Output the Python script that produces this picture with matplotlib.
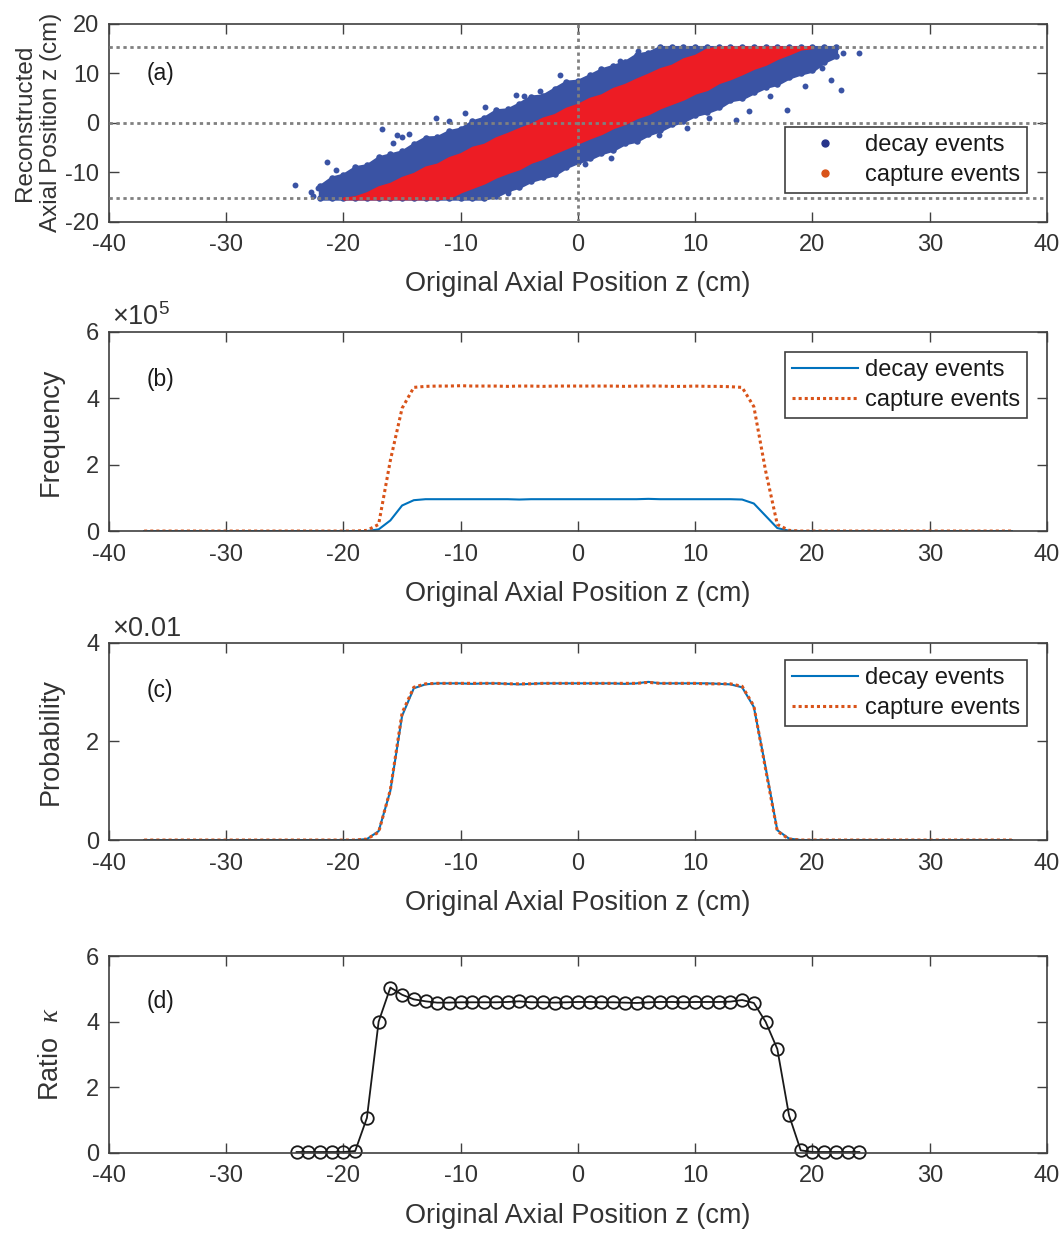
import matplotlib

matplotlib.use("Agg")
import matplotlib.pyplot as plt
import numpy as np
from matplotlib.lines import Line2D

plt.rcParams["font.family"] = ["Liberation Sans", "DejaVu Sans"]
plt.rcParams["axes.unicode_minus"] = False
plt.rcParams["mathtext.fontset"] = "custom"
plt.rcParams["mathtext.rm"] = "Liberation Sans"
plt.rcParams["mathtext.it"] = "Liberation Serif:italic"

AX_COL = "#404040"
TXT_COL = "#333333"
BLUE = "#0072BD"
ORANGE = "#D95319"
DOT_BLUE = "#3A53A4"
DOT_RED = "#ED1C24"

# ---- (a) scatter bands, read as band edges (cm) ----
Z_CUT = 15.3
BLUE_X = list(range(-22, 23))
BLUE_UP = [-12.8, -11.1, -10.5, -9.0, -8.6, -7.0, -6.4, -5.8, -4.3, -3.0,
           -2.9, -1.7, -1.2, 0.3, 1.0, 2.5, 2.7, 3.9, 5.3, 5.5,
           6.9, 8.3, 8.5, 9.6, 10.8, 11.5, 12.3, 13.8, 14.2, 15.3] + [15.3] * 15
BLUE_LO = [-15.3] * 15 + [-14.8, -13.6, -12.9, -11.7, -11.0, -10.4, -8.9, -7.9,
                          -7.2, -6.1, -5.4, -4.1, -3.6, -2.3, -1.5, -0.3, 0.4, 1.6,
                          2.2, 3.1, 4.6, 5.0, 6.2, 7.3, 7.9, 9.2, 10.0, 10.6, 12.4, 13.5]
RED_X = list(range(-20, 21))
RED_UP = [-15.3, -15.0, -14.2, -13.0, -12.3, -11.1, -10.3, -9.0, -8.4, -7.1,
          -6.3, -5.0, -4.4, -3.1, -2.2, -1.2, -0.3, 0.9, 1.6, 2.9,
          3.7, 4.9, 5.6, 6.9, 7.7, 8.8, 9.8, 10.9, 11.6, 12.9,
          13.6, 14.9] + [15.3] * 9
RED_LO = [-15.3] * 9 + [-15.1, -13.9, -13.0, -12.1, -10.9, -10.0, -9.2, -7.9, -7.1,
                        -6.0, -5.0, -4.0, -3.0, -2.1, -0.9, -0.1, 1.1, 1.9, 3.1,
                        4.0, 4.9, 6.1, 6.8, 8.2, 9.0, 10.0, 11.1, 11.9, 13.1,
                        14.0, 15.0, 15.3]
OUT_X = [-24.1, -22.6, -22.2, -21.4, -22.8, -20.6, -16.7, -15.8, -15.4, -15.0,
         -14.4, -12.1, -11.0, -9.6, -7.9, -5.3, -4.6, -6.0, -7.9, -3.2,
         24.0, 22.6, 22.4, 21.6, 17.8, 19.4, 13.5, 14.6, 3.6, 2.8,
         6.9, 9.3, 11.2, 16.4, 20.8, -1.5, 0.6, 5.1]
OUT_Y = [-12.6, -14.8, -13.1, -8.0, -14.0, -9.6, -1.3, -4.0, -2.4, -2.8,
         -2.2, 0.9, 0.3, 1.9, 3.3, 5.6, 5.4, -14.1, -14.9, 6.5,
         14.2, 14.2, 6.7, 8.7, 2.5, 7.5, 0.6, 2.3, 12.6, -7.2,
         -2.4, -1.1, 1.0, 5.5, 11.0, 9.6, -8.4, 14.6]

# ---- (b) frequency (x1e5) and (c) probability (x0.01) ----
Z_BIN = list(range(-37, 38))
FREQ_DECAY = [0.0] * 19 + [
    0.00, 0.05, 0.32, 0.77, 0.93, 0.96, 0.96, 0.96, 0.96, 0.96,
    0.96, 0.96, 0.96, 0.95, 0.96, 0.96, 0.96, 0.96, 0.96, 0.96,
    0.96, 0.96, 0.96, 0.96, 0.97, 0.96, 0.96, 0.96, 0.96, 0.96,
    0.96, 0.96, 0.95, 0.83, 0.46, 0.09, 0.01] + [0.0] * 19
FREQ_CAPTURE = [0.0] * 19 + [
    0.02, 0.20, 2.13, 3.70, 4.33, 4.36, 4.37, 4.37, 4.38, 4.37,
    4.37, 4.37, 4.36, 4.37, 4.37, 4.36, 4.37, 4.37, 4.37, 4.37,
    4.37, 4.37, 4.36, 4.37, 4.37, 4.37, 4.36, 4.36, 4.37, 4.36,
    4.36, 4.35, 4.33, 3.75, 1.82, 0.20, 0.02] + [0.0] * 19
PROB_DECAY = [0.0] * 19 + [
    0.02, 0.18, 1.00, 2.52, 3.08, 3.16, 3.18, 3.18, 3.18, 3.17,
    3.18, 3.18, 3.17, 3.16, 3.17, 3.18, 3.18, 3.18, 3.18, 3.18,
    3.18, 3.18, 3.17, 3.18, 3.21, 3.18, 3.18, 3.18, 3.18, 3.18,
    3.17, 3.16, 3.10, 2.70, 1.48, 0.20, 0.03] + [0.0] * 19
PROB_CAPTURE = [0.0] * 19 + [
    0.02, 0.16, 1.02, 2.58, 3.10, 3.17, 3.18, 3.18, 3.18, 3.18,
    3.18, 3.18, 3.17, 3.17, 3.17, 3.18, 3.18, 3.18, 3.18, 3.18,
    3.18, 3.18, 3.18, 3.18, 3.20, 3.18, 3.18, 3.18, 3.18, 3.17,
    3.17, 3.17, 3.12, 2.72, 1.44, 0.18, 0.02] + [0.0] * 19

# ---- (d) ratio kappa ----
Z_RATIO = list(range(-24, 25))
KAPPA = [0.03, 0.03, 0.03, 0.03, 0.03, 0.06, 1.07, 4.00, 5.04, 4.82,
         4.68, 4.62, 4.58, 4.58, 4.59, 4.59, 4.59, 4.59, 4.60, 4.62,
         4.59, 4.59, 4.58, 4.59, 4.60, 4.60, 4.59, 4.59, 4.58, 4.57,
         4.59, 4.60, 4.60, 4.59, 4.60, 4.60, 4.60, 4.61, 4.66, 4.57,
         4.00, 3.17, 1.15, 0.08, 0.03, 0.03, 0.03, 0.03, 0.03]

XLABEL = "Original Axial Position z (cm)"


def style_axes(ax, yticks):
    ax.set_xlim(-40, 40)
    ax.set_xticks(range(-40, 41, 10))
    ax.set_yticks(yticks)
    ax.set_ylim(yticks[0], yticks[-1])
    ax.tick_params(direction="in", length=7, width=1, colors=AX_COL,
                   labelsize=17, top=True, right=True, pad=9,
                   labelcolor=TXT_COL)
    ax.tick_params(axis="y", pad=7)
    for sp in ax.spines.values():
        sp.set_color(AX_COL)
        sp.set_linewidth(1.2)
    ax.set_xlabel(XLABEL, fontsize=19.5, color=TXT_COL, labelpad=11)


def legend(ax, handles, anchor):
    leg = ax.legend(handles=handles, loc="upper right", bbox_to_anchor=anchor,
                    fontsize=17, fancybox=False, framealpha=1,
                    borderpad=0.3, labelspacing=0.35, handlelength=2.8,
                    handletextpad=0.3, borderaxespad=0)
    leg.get_frame().set_edgecolor(AX_COL)
    leg.get_frame().set_linewidth(1.2)
    for t in leg.get_texts():
        t.set_color("#1a1a1a")


fig = plt.figure(figsize=(10.64, 12.35), dpi=100)
L, W = 0.1024, 0.8816
ax_a = fig.add_axes([L, 0.8205, W, 0.1601])
ax_b = fig.add_axes([L, 0.5700, W, 0.1612])
ax_c = fig.add_axes([L, 0.3198, W, 0.1596])
ax_d = fig.add_axes([L, 0.0664, W, 0.1595])

# (a)
b_lo = np.clip(BLUE_LO, -Z_CUT, Z_CUT)
b_up = np.clip(BLUE_UP, -Z_CUT, Z_CUT)
ax_a.fill_between(BLUE_X, b_lo, b_up, color=DOT_BLUE, linewidth=2.5,
                  edgecolor=DOT_BLUE, zorder=2)
ax_a.scatter(BLUE_X, b_up, s=22, color=DOT_BLUE, linewidths=0, zorder=2)
ax_a.scatter(BLUE_X, b_lo, s=22, color=DOT_BLUE, linewidths=0, zorder=2)
ax_a.scatter(OUT_X, OUT_Y, s=18, color=DOT_BLUE, linewidths=0, zorder=2)
r_lo = np.clip(RED_LO, -Z_CUT, Z_CUT)
r_up = np.clip(RED_UP, -Z_CUT, Z_CUT)
ax_a.fill_between(RED_X, r_lo, r_up, color=DOT_RED, linewidth=2,
                  edgecolor=DOT_RED, zorder=3)
for yv in (-Z_CUT, 0, Z_CUT):
    ax_a.axhline(yv, color="#808080", linewidth=2, dashes=(1.2, 1.3), zorder=4)
ax_a.axvline(0, color="#808080", linewidth=2, dashes=(1.2, 1.3), zorder=4)
style_axes(ax_a, [-20, -10, 0, 10, 20])
ax_a.set_ylabel("Reconstructed\nAxial Position z (cm)", fontsize=17.5,
                color=TXT_COL, linespacing=1.25, labelpad=2)
ax_a.text(0.04, 0.75, "(a)", transform=ax_a.transAxes, fontsize=16.5,
          color="#1a1a1a", va="center")
legend(ax_a, [
    Line2D([], [], marker="o", linestyle="none", markersize=5,
           color="#27348B", label="decay events"),
    Line2D([], [], marker="o", linestyle="none", markersize=5,
           color=ORANGE, label="capture events"),
], (0.979, 0.48))

# (b)
ax_b.plot(Z_BIN, FREQ_DECAY, color=BLUE, linewidth=1.5, label="decay events")
ax_b.plot(Z_BIN, FREQ_CAPTURE, color=ORANGE, linewidth=2.2, dashes=(1.0, 1.0),
          label="capture events")
style_axes(ax_b, [0, 2, 4, 6])
ax_b.set_ylabel("Frequency", fontsize=19.5, color=TXT_COL, labelpad=16)
ax_b.text(0.003, 1.005, r"$\times\mathregular{10^{5}}$", transform=ax_b.transAxes,
          fontsize=19.5, color=TXT_COL, va="bottom", ha="left")
ax_b.text(0.04, 0.76, "(b)", transform=ax_b.transAxes, fontsize=16.5,
          color="#1a1a1a", va="center")
legend(ax_b, ax_b.get_lines(), (0.979, 0.90))

# (c)
ax_c.plot(Z_BIN, PROB_DECAY, color=BLUE, linewidth=1.5, label="decay events")
ax_c.plot(Z_BIN, PROB_CAPTURE, color=ORANGE, linewidth=2.2, dashes=(1.0, 1.0),
          label="capture events")
style_axes(ax_c, [0, 2, 4])
ax_c.set_ylabel("Probability", fontsize=19.5, color=TXT_COL, labelpad=16)
ax_c.text(0.003, 1.005, r"$\times$0.01", transform=ax_c.transAxes,
          fontsize=19.5, color=TXT_COL, va="bottom", ha="left")
ax_c.text(0.04, 0.76, "(c)", transform=ax_c.transAxes, fontsize=16.5,
          color="#1a1a1a", va="center")
legend(ax_c, ax_c.get_lines(), (0.979, 0.915))

# (d)
ax_d.plot(Z_RATIO, KAPPA, color="#1a1a1a", linewidth=1.3, marker="o",
          markersize=9, markerfacecolor="none", markeredgewidth=1.3,
          clip_on=False)
style_axes(ax_d, [0, 2, 4, 6])
ax_d.set_ylabel(r"Ratio  $\kappa$", fontsize=19.5, color=TXT_COL, labelpad=16)
ax_d.text(0.04, 0.77, "(d)", transform=ax_d.transAxes, fontsize=16.5,
          color="#1a1a1a", va="center")

fig.savefig("out.png", dpi=100, facecolor="white")
